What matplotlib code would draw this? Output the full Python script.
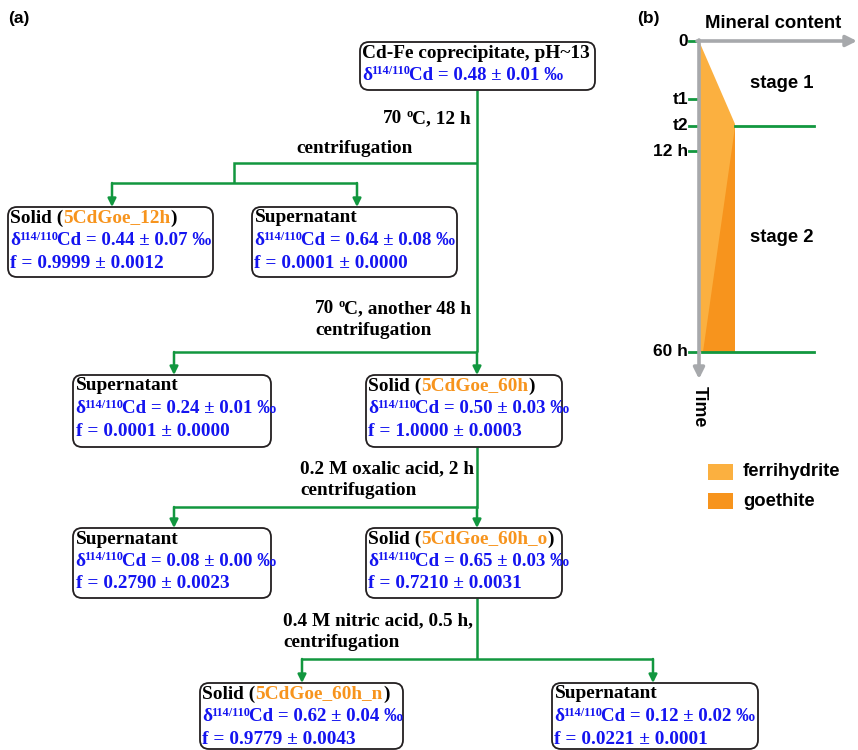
import matplotlib
matplotlib.use("Agg")
import matplotlib.pyplot as plt
from matplotlib.patches import FancyBboxPatch, Polygon, Rectangle

# ---- data (panel a) ----
box_titles = ["Cd-Fe coprecipitate, pH~13", "Solid", "Supernatant", "Supernatant", "Solid",
              "Supernatant", "Solid", "Solid", "Supernatant"]
sample_names = ["", "5CdGoe_12h", "", "", "5CdGoe_60h", "", "5CdGoe_60h_o", "5CdGoe_60h_n", ""]
delta_vals = [0.48, 0.44, 0.64, 0.24, 0.50, 0.08, 0.65, 0.62, 0.12]
delta_errs = [0.01, 0.07, 0.08, 0.01, 0.03, 0.00, 0.03, 0.04, 0.02]
f_vals = [None, 0.9999, 0.0001, 0.0001, 1.0000, 0.2790, 0.7210, 0.9779, 0.0221]
f_errs = [None, 0.0012, 0.0000, 0.0000, 0.0003, 0.0023, 0.0031, 0.0043, 0.0001]
# steps: (temperature or None, rest of first line, second line)
step_temp = ["70", "70", None, None]
step_line1 = ["C, 12 h", "C, another 48 h", "0.2 M oxalic acid, 2 h", "0.4 M nitric acid, 0.5 h,"]
step_line2 = ["centrifugation"] * 4

# ---- data (panel b) ----
time_labels = ["0", "t1", "t2", "12 h", "60 h"]
stage_labels = ["stage 1", "stage 2"]
phase_names = ["ferrihydrite", "goethite"]

# ---- layout (pixels) ----
boxes = [(360, 42, 595, 90), (8, 207, 213, 277), (252, 207, 457, 277),
         (73, 375, 271, 447), (366, 375, 562, 447), (73, 528, 271, 598),
         (366, 528, 562, 598), (200, 683, 403, 749), (552, 683, 758, 749)]
step_pos1 = [(383, 123), (315, 313), (300, 473), (283, 625)]
step_pos2 = [(296, 153), (315, 335), (300, 495), (283, 647)]
time_y = [41, 99, 126, 151, 352]

GREEN = "#12973f"
BLUE = "#1414f0"
ORANGE = "#f7941d"
FERRI = "#fbb040"
GOE = "#f7941d"
GRAY = "#a7a9ac"
FS = 13.9
SUP = 8.8
SPACE = 4.0
serif = dict(family="Liberation Serif", weight="bold")
sans = dict(family="Liberation Sans", weight="bold")

fig = plt.figure(figsize=(8.58, 7.5), dpi=100)
ax = fig.add_axes([0, 0, 1, 1])
ax.set_xlim(0, 858)
ax.set_ylim(750, 0)
ax.axis("off")
renderer = fig.canvas.get_renderer()


def rich(x, y, pieces):
    # pieces: (text, color, fontsize, raise, gap after)
    for s, c, fs, dy, gap in pieces:
        t = ax.text(x, y - dy, s, color=c, fontsize=fs, ha="left", va="baseline",
                    zorder=3, **serif)
        x += t.get_window_extent(renderer=renderer).width + gap


def seg(pts):
    xs, ys = zip(*pts)
    ax.plot(xs, ys, color=GREEN, lw=1.8, solid_capstyle="butt", solid_joinstyle="miter")


def arrow(x, y0, y1):
    ax.annotate("", xy=(x, y1), xytext=(x, y0),
                arrowprops=dict(arrowstyle="-|>", color=GREEN, lw=1.8, mutation_scale=12,
                                shrinkA=0, shrinkB=0))


# connectors
seg([(477, 90), (477, 352)])
seg([(477, 163), (234, 163), (234, 183)])
seg([(112, 183), (357, 183)])
arrow(112, 183, 207)
arrow(357, 183, 207)
seg([(477, 352), (174, 352)])
arrow(174, 352, 375)
arrow(477, 352, 375)
seg([(477, 447), (477, 507), (174, 507)])
arrow(174, 507, 528)
arrow(477, 507, 528)
seg([(477, 598), (477, 659)])
seg([(302, 659), (653, 659)])
arrow(302, 659, 683)
arrow(653, 659, 683)

# boxes
for i, (x0, y0, x1, y1) in enumerate(boxes):
    ax.add_patch(FancyBboxPatch((x0, y0), x1 - x0, y1 - y0,
                                boxstyle="round,pad=0,rounding_size=9",
                                ec="#231f20", fc="white", lw=1.3, zorder=2))
    tx = x0 + 2.5
    by = y0 + 15.5
    if sample_names[i]:
        rich(tx, by, [(box_titles[i] + " (", "black", FS, 0, 0),
                      (sample_names[i], ORANGE, FS, 0, 0), (")", "black", FS, 0, 0)])
    else:
        rich(tx, by, [(box_titles[i], "black", FS, 0, 0)])
    rich(tx, by + 22.5, [("δ", BLUE, FS, 0, -1.5), ("114/110", BLUE, SUP, 5.5, -1.2),
                         ("Cd = %.2f ± %.2f ‰" % (delta_vals[i], delta_errs[i]), BLUE, 13.6, 0, 0)])
    if f_vals[i] is not None:
        rich(tx, by + 45, [("f = %.4f ± %.4f" % (f_vals[i], f_errs[i]), BLUE, FS, 0, 0)])

for temp, l1, l2, p1, p2 in zip(step_temp, step_line1, step_line2, step_pos1, step_pos2):
    if temp:
        rich(p1[0], p1[1], [(temp, "black", FS, 0, SPACE), ("o", "black", SUP, 6, -0.5),
                            (l1, "black", FS, 0, 0)])
    else:
        rich(p1[0], p1[1], [(l1, "black", FS, 0, 0)])
    rich(p2[0], p2[1], [(l2, "black", FS, 0, 0)])

# panel labels
ax.text(8, 18, "(a)", va="center", fontsize=12.5, **sans)
ax.text(637, 18, "(b)", va="center", fontsize=12.5, **sans)

# ---- panel b ----
ax.text(773, 23, "Mineral content", ha="center", va="center", fontsize=13.3, **sans)
ax.add_patch(Polygon([(699, time_y[0]), (735, time_y[2] - 2), (735, time_y[4]), (699, time_y[4])],
                     closed=True, fc=FERRI, ec="none", zorder=1))
ax.add_patch(Polygon([(703, time_y[4]), (735, time_y[2] + 1), (735, time_y[4])],
                     closed=True, fc=GOE, ec="none", zorder=1))
ax.annotate("", xy=(857, time_y[0]), xytext=(697, time_y[0]),
            arrowprops=dict(arrowstyle="-|>", color=GRAY, lw=2.6, mutation_scale=16,
                            shrinkA=0, shrinkB=0))
ax.annotate("", xy=(699, 379), xytext=(699, time_y[0] - 1),
            arrowprops=dict(arrowstyle="-|>", color=GRAY, lw=2.6, mutation_scale=16,
                            shrinkA=0, shrinkB=0))
ax.text(699, 407, "Time", rotation=-90, ha="center", va="center", fontsize=12.8, **sans)
for lab, y in zip(time_labels, time_y):
    ax.plot([689, 697], [y, y], color=GREEN, lw=2)
    ax.text(688, y, lab, ha="right", va="center", fontsize=12.5, **sans)
ax.plot([735, 814], [time_y[2], time_y[2]], color=GREEN, lw=2)
ax.plot([702, 814], [time_y[4], time_y[4]], color=GREEN, lw=2)
ax.text(782, 83, stage_labels[0], ha="center", va="center", fontsize=13.3, **sans)
ax.text(782, 237, stage_labels[1], ha="center", va="center", fontsize=13.3, **sans)

# legend
for name, col, y in zip(phase_names, [FERRI, GOE], [472, 501]):
    ax.add_patch(Rectangle((708, y - 8), 25, 16, fc=col, ec="none"))
    ax.text(743, y, name, ha="left", va="center", fontsize=13.3, **sans)

fig.savefig("out.png", dpi=100)
